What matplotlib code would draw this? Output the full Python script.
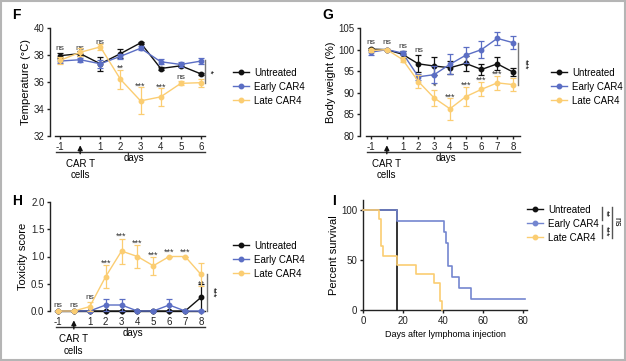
import matplotlib
matplotlib.use('Agg')
import matplotlib.pyplot as plt
import matplotlib.transforms as mtransforms
from matplotlib.patches import Rectangle
from matplotlib.lines import Line2D

plt.rcParams['font.family'] = ['Liberation Sans', 'DejaVu Sans']

# ---- data ----
groups = ['Untreated', 'Early CAR4', 'Late CAR4']
colors = ['#111111', '#5b6ec4', '#fbcd72']
surv_colors = ['#111111', '#7486d0', '#fbcd72']

# F: temperature, days -1, (CAR T), 1..6
temp_days = ['-1', '', '1', '2', '3', '4', '5', '6']
temp_mean = [[37.95, 38.1, 37.35, 38.1, 38.9, 37.0, 37.2, 36.6],
             [37.55, 37.65, 37.35, 37.9, 38.5, 37.5, 37.3, 37.55],
             [37.6, 38.2, 38.6, 36.2, 34.6, 34.9, 35.9, 35.95]]
temp_err = [[0.2, 0.2, 0.5, 0.35, 0.1, 0.1, 0.1, 0.1],
            [0.15, 0.15, 0.3, 0.2, 0.15, 0.2, 0.2, 0.25],
            [0.25, 0.3, 0.2, 0.7, 1.0, 0.65, 0.15, 0.3]]
temp_sig = ['ns', 'ns', 'ns', '**', '***', '***', 'ns', '']
temp_sig_y = [38.45, 38.5, 38.95, 37.0, 35.65, 35.6, 36.3, 0]

# G: body weight, days -1, (CAR T), 1..8
bw_days = ['-1', '', '1', '2', '3', '4', '5', '6', '7', '8']
bw_mean = [[100.1, 100.0, 98.9, 96.7, 96.2, 95.8, 96.8, 95.4, 96.7, 94.8],
           [99.4, 100.0, 99.2, 93.7, 94.2, 96.6, 98.7, 100.0, 102.6, 101.6],
           [99.8, 100.0, 97.7, 92.6, 88.8, 86.3, 89.1, 90.8, 92.3, 91.9]]
bw_err = [[0.3, 0.2, 0.8, 2.0, 2.0, 1.5, 1.7, 1.2, 1.5, 1.0],
          [0.6, 0.2, 0.5, 0.7, 2.0, 2.3, 1.9, 2.0, 1.5, 1.5],
          [0.3, 0.2, 0.5, 1.5, 1.9, 2.5, 2.2, 1.6, 1.6, 1.5]]
bw_sig = ['ns', 'ns', 'ns', 'ns', '*', '***', '***', '***', '***', '']
bw_sig_y = [101.6, 101.6, 100.8, 99.7, 91.5, 89.0, 91.7, 92.9, 94.4, 0]

# H: toxicity score
tox_days = ['-1', '', '1', '2', '3', '4', '5', '6', '7', '8']
tox_mean = [[0, 0, 0, 0, 0, 0, 0, 0, 0, 0.25],
            [0, 0, 0, 0.11, 0.11, 0, 0, 0.11, 0, 0],
            [0, 0, 0.08, 0.63, 1.1, 1.0, 0.83, 1.0, 1.0, 0.67]]
tox_err = [[0, 0, 0, 0, 0, 0, 0, 0, 0, 0.25],
           [0, 0, 0, 0.11, 0.11, 0, 0, 0.11, 0, 0],
           [0, 0, 0.08, 0.21, 0.23, 0.22, 0.17, 0, 0, 0.21]]
tox_sig = ['ns', 'ns', 'ns', '***', '***', '***', '***', '***', '***', '**']
tox_sig_y = [0.1, 0.1, 0.24, 0.88, 1.38, 1.25, 1.03, 1.08, 1.08, 0.49]

# I: survival (step curves)
surv_t = [[0, 17, 17],
          [0, 17, 40.5, 41.7, 42.5, 44.7, 47.8, 54, 81],
          [0, 8, 8.8, 10, 17, 26.3, 35.3, 38.3, 39.7]]
surv_p = [[100, 100, 0],
          [100, 88.9, 77.8, 66.7, 44.4, 33.3, 22.2, 11.1, 11.1],
          [100, 90.9, 63.6, 54.5, 45.5, 36.4, 27.3, 9.1, 0]]

W, H = 626, 361
fig = plt.figure(figsize=(W / 100, H / 100), dpi=100)
fig.patch.set_facecolor('white')
fig.patches.append(Rectangle((0.001, 0.002), 0.997, 0.995, transform=fig.transFigure,
                             fill=False, edgecolor='#b5b5b5', linewidth=1.5))


def px_axes(left, top, right, bottom):
    return fig.add_axes([left / W, 1 - bottom / H, (right - left) / W, (bottom - top) / H])


def style(ax):
    for s in ['top', 'right']:
        ax.spines[s].set_visible(False)
    for s in ['left', 'bottom']:
        ax.spines[s].set_linewidth(1.0)
        ax.spines[s].set_color('#222222')
    ax.tick_params(labelsize=7, width=1.0, length=2.5, colors='#222222', pad=1.5)


def timecourse(ax, labels, means, errs, sig, sig_y, ylim, yticks, ylabel, xlo, xhi, axstart):
    n = len(labels)
    x = list(range(n))
    for g in [2, 1, 0]:
        ax.errorbar(x, means[g], yerr=errs[g], color=colors[g], marker='o', markersize=3.2,
                    linewidth=1.0, elinewidth=0.9, capsize=2, capthick=0.9, clip_on=False, zorder=3 + g)
    ax.set_xlim(xlo, xhi)
    ax.set_ylim(*ylim)
    ax.set_yticks(yticks)
    ax.set_xticks(x)
    ax.set_xticklabels(labels)
    ax.spines['bottom'].set_bounds(axstart, xhi)
    ax.set_ylabel(ylabel, fontsize=8, labelpad=2)
    style(ax)
    for i, s in enumerate(sig):
        if s:
            ax.text(i, sig_y[i], s, ha='center', va='center', fontsize=6 if s == 'ns' else 6.5,
                    color='#333333')
    tr = mtransforms.blended_transform_factory(ax.transData, ax.transAxes)
    ax.plot([axstart + 0.05, xhi], [-0.148, -0.148], color='#333333', lw=1.0, transform=tr, clip_on=False)
    ax.text((axstart + xhi) / 2 + 0.2, -0.205, 'days', transform=tr, ha='center', va='center', fontsize=7)
    ax.annotate('', xy=(1, -0.06), xytext=(1, -0.19), xycoords=tr, textcoords=tr,
                arrowprops=dict(arrowstyle='-|>', color='#111111', lw=1.0, mutation_scale=7))
    ax.text(1, -0.215, 'CAR T\ncells', transform=tr, ha='center', va='top', fontsize=7,
            linespacing=1.15)


def add_legend(ax, fx, fy, cols):
    handles = [Line2D([0], [0], color=c, marker='o', markersize=3.2, lw=1.0) for c in cols]
    ax.legend(handles, groups, loc='upper left', bbox_to_anchor=(fx / W, 1 - fy / H),
              bbox_transform=fig.transFigure, frameon=False, fontsize=7, handlelength=1.7,
              labelspacing=0.4, borderpad=0, handletextpad=0.45)


def sig_bar(ax, xf, y0, y1, label, dx):
    tr = mtransforms.blended_transform_factory(ax.transAxes, ax.transData)
    ax.plot([xf, xf], [y0, y1], color='#777777', lw=1.0, transform=tr, clip_on=False)
    ax.text(xf + dx, (y0 + y1) / 2, label, rotation=270, ha='center', va='center',
            fontsize=6.5, transform=tr)


# F
axF = px_axes(50, 28, 205, 136)
timecourse(axF, temp_days, temp_mean, temp_err, temp_sig, temp_sig_y, (32, 40),
           [32, 34, 36, 38, 40], 'Temperature (°C)', -0.5, 7.2, -0.25)
sig_bar(axF, 1.0, 37.6, 35.95, '*', 0.03)
add_legend(axF, 228, 63, colors)
fig.text(12 / W, 1 - 15 / H, 'F', fontsize=10, fontweight='bold', va='center')

# G
axG = px_axes(360, 28, 520, 136)
timecourse(axG, bw_days, bw_mean, bw_err, bw_sig, bw_sig_y, (80, 105),
           [80, 85, 90, 95, 100, 105], 'Body weight (%)', -0.7, 9.44, -0.32)
sig_bar(axG, 0.99, 101.5, 91.9, '***', 0.04)
add_legend(axG, 546, 63, colors)
fig.text(322 / W, 1 - 15 / H, 'G', fontsize=10, fontweight='bold', va='center')

# H
axH = px_axes(50, 202, 205, 311)
timecourse(axH, tox_days, tox_mean, tox_err, tox_sig, tox_sig_y, (0, 2.0),
           [0.0, 0.5, 1.0, 1.5, 2.0], 'Toxicity score', -0.5, 9.25, -0.19)
axH.yaxis.set_major_formatter(matplotlib.ticker.FormatStrFormatter('%.1f'))
sig_bar(axH, 1.01, 0.67, 0.0, '***', 0.04)
add_legend(axH, 228, 236, colors)
fig.text(12 / W, 1 - 201 / H, 'H', fontsize=10, fontweight='bold', va='center')

# I
axI = px_axes(363, 200, 527, 310)
for g in [2, 1, 0]:
    axI.step(surv_t[g], surv_p[g], where='post', color=surv_colors[g], lw=1.2, clip_on=False,
             zorder=3 + g)
axI.set_xlim(0, 82)
axI.set_ylim(0, 110)
axI.set_xticks([0, 20, 40, 60, 80])
axI.set_yticks([0, 50, 100])
axI.spines['left'].set_bounds(0, 110)
axI.set_xlabel('Days after lymphoma injection', fontsize=6.5, labelpad=3)
axI.set_ylabel('Percent survival', fontsize=8, labelpad=2)
style(axI)
add_legend(axI, 522, 200, surv_colors)
fig.text(332 / W, 1 - 201 / H, 'I', fontsize=10, fontweight='bold', va='center')

# survival significance brackets (figure coords)
for (y0, y1, lab) in [(207, 220, '**'), (225, 238, '***')]:
    fig.lines.append(Line2D([602 / W, 602 / W], [1 - y0 / H, 1 - y1 / H], color='#555555', lw=1.0,
                            transform=fig.transFigure))
    fig.text(606 / W, 1 - (y0 + y1) / 2 / H, lab, rotation=270, ha='center', va='center', fontsize=6.5)
fig.lines.append(Line2D([612 / W, 612 / W], [1 - 207 / H, 1 - 238 / H], color='#555555', lw=1.0,
                        transform=fig.transFigure))
fig.text(617 / W, 1 - 222 / H, 'ns', rotation=270, ha='center', va='center', fontsize=6.5)

fig.savefig('out.png', dpi=100)
